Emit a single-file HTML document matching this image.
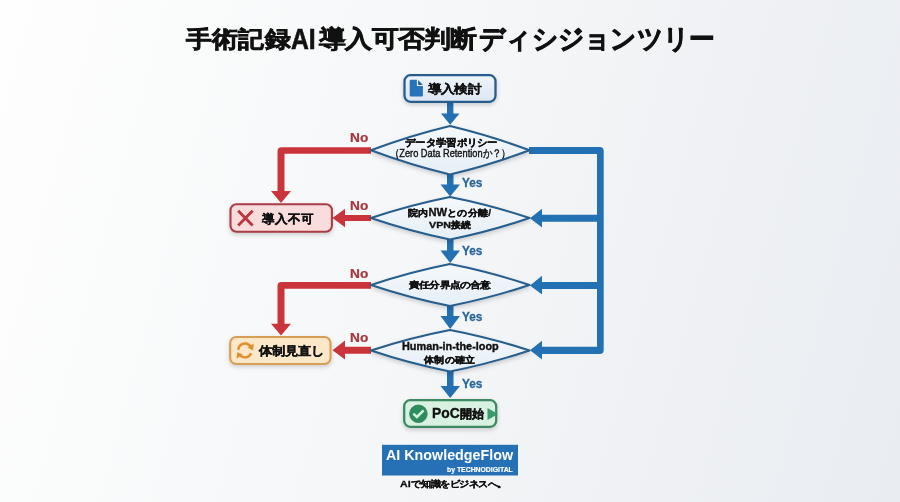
<!DOCTYPE html>
<html>
<head>
<meta charset="utf-8">
<style>
html,body{margin:0;padding:0;}
body{width:900px;height:502px;overflow:hidden;position:relative;
  background:linear-gradient(105deg,#fefefe 0%,#f5f7f8 45%,#e9ecf1 100%);
  font-family:"Liberation Sans",sans-serif;color:#111;}
.t{position:absolute;white-space:nowrap;font-weight:bold;line-height:1;}
svg{position:absolute;left:0;top:0;}
</style>
</head>
<body>
<svg width="900" height="502" viewBox="0 0 900 502">
  <defs>
    <filter id="sh" x="-20%" y="-30%" width="140%" height="170%">
      <feDropShadow dx="0" dy="2" stdDeviation="2" flood-color="#000" flood-opacity="0.18"/>
    </filter>
    <linearGradient id="dg" x1="0" y1="0" x2="0" y2="1">
      <stop offset="0" stop-color="#f4f8fb"/>
      <stop offset="1" stop-color="#e6eff7"/>
    </linearGradient>
    <linearGradient id="bg1" x1="0" y1="0" x2="0" y2="1">
      <stop offset="0" stop-color="#eef4fa"/>
      <stop offset="1" stop-color="#dbe7f2"/>
    </linearGradient>
  </defs>

  <!-- red lines -->
  <g fill="#c9353a">
    <!-- D1 no -> down to 導入不可 -->
    <path d="M371 147.3 L281.5 147.3 Q277.5 147.3 277.5 151.3 L277.5 191 L271 191 L281 203 L291 191 L284.5 191 L284.5 153.7 L371 153.7 Z"/>
    <!-- D2 no arrow -->
    <path d="M371 215 L345 215 L345 208.7 L332.5 218 L345 227.3 L345 221 L371 221 Z"/>
    <!-- D3 no -> down -->
    <path d="M371 282.1 L281.5 282.1 Q277.5 282.1 277.5 286.1 L277.5 323.7 L271 323.7 L281 335.5 L291 323.7 L284.5 323.7 L284.5 288.7 L371 288.7 Z"/>
    <!-- D4 no arrow -->
    <path d="M371 346.7 L345 346.7 L345 340.6 L332.5 350.2 L345 359.6 L345 353.8 L371 353.8 Z"/>
  </g>

  <!-- blue right bracket -->
  <g fill="#2370b2">
    <path d="M529 147 L599.7 147 Q603.7 147 603.7 151 L603.7 350 Q603.7 354 599.7 354 L542 354 L542 359.6 L530 350.3 L542 340.8 L542 346.7 L597 346.7 L597 289 L542 289 L542 294.6 L530 285.5 L542 275.8 L542 282 L597 282 L597 221.7 L542 221.7 L542 227.6 L530 218.2 L542 208.7 L542 214.7 L597 214.7 L597 154 L529 154 Z"/>
    <!-- down arrows -->
    <path d="M447 103 L453.4 103 L453.4 113.4 L459.5 113.4 L450.2 124.8 L441 113.4 L447 113.4 Z"/>
    <path d="M447 174 L453.5 174 L453.5 184.5 L460 184.5 L450.2 196.5 L440.5 184.5 L447 184.5 Z"/>
    <path d="M447 239 L453.5 239 L453.5 250.5 L460 250.5 L450.2 263 L440.5 250.5 L447 250.5 Z"/>
    <path d="M447 305 L453.5 305 L453.5 316 L460 316 L450.2 329 L440.5 316 L447 316 Z"/>
    <path d="M447 371 L453.5 371 L453.5 386 L460 386 L450.2 398 L440.5 386 L447 386 Z"/>
  </g>

  <!-- diamonds -->
  <g fill="url(#dg)" stroke="#285e8e" stroke-width="2.1" stroke-linejoin="round" filter="url(#sh)">
    <path d="M450.00 126.00 Q490.51 135.66 529.50 150.30 Q490.51 164.89 450.00 174.50 Q409.74 164.89 371.00 150.30 Q409.74 135.66 450.00 126.00 Z"/>
    <path d="M450.00 197.00 Q490.41 204.99 529.50 218.00 Q490.43 231.26 450.00 239.50 Q409.82 231.26 371.00 218.00 Q409.83 204.99 450.00 197.00 Z"/>
    <path d="M450.00 264.00 Q490.41 271.99 529.50 285.00 Q490.41 298.01 450.00 306.00 Q409.83 298.01 371.00 285.00 Q409.83 271.99 450.00 264.00 Z"/>
    <path d="M450.00 330.00 Q490.40 337.73 529.50 350.50 Q490.41 363.51 450.00 371.50 Q409.83 363.51 371.00 350.50 Q409.85 337.73 450.00 330.00 Z"/>
  </g>

  <!-- start box -->
  <rect x="404.5" y="75.2" width="91" height="26.6" rx="6" fill="url(#bg1)" stroke="#285d8c" stroke-width="2.3" filter="url(#sh)"/>
  <path d="M411 79.8 H416.9 V86 H422.9 V95.3 Q422.9 96.6 421.6 96.6 H411 Q409.7 96.6 409.7 95.3 V81.1 Q409.7 79.8 411 79.8 Z" fill="#2774b8"/>
  <path d="M418.1 80 L422.8 84.9 L418.1 84.9 Z" fill="#245f90"/>

  <!-- 導入不可 box -->
  <rect x="230.5" y="204.3" width="101.4" height="27.4" rx="6" fill="#f9dddd" stroke="#a93d44" stroke-width="2.1" filter="url(#sh)"/>
  <path d="M238.2 210.8 L252.6 225.4 M252.6 210.8 L238.2 225.4" stroke="#b9363f" stroke-width="2.9" stroke-linecap="butt"/>

  <!-- 体制見直し box -->
  <rect x="230.2" y="337" width="100.3" height="27" rx="6" fill="#fce8c9" stroke="#d99e57" stroke-width="2.1" filter="url(#sh)"/>
  <g fill="none" stroke="#e08e2c" stroke-width="2.4">
    <path d="M238.3 349.8 A6.7 6.7 0 0 1 250.6 346.6"/>
    <path d="M251.1 353.3 A6.7 6.7 0 0 1 239.8 355"/>
  </g>
  <path d="M253.9 343.4 L247.6 347.6 L252.9 350.4 Z" fill="#e08e2c"/>
  <path d="M236.5 358.8 L242.8 354.6 L237.4 352.2 Z" fill="#e08e2c"/>

  <!-- PoC box -->
  <rect x="404.2" y="400.2" width="92" height="26.6" rx="6" fill="#d8f1e0" stroke="#3e8a62" stroke-width="2.3" filter="url(#sh)"/>
  <circle cx="418.4" cy="413.8" r="8.8" fill="#2f8c5c" stroke="#2b7a52" stroke-width="0.8"/>
  <path d="M413.3 413.6 L416.9 417 L423.6 410.3" fill="none" stroke="#d2f5df" stroke-width="2.5"/>
  <path d="M487.5 408 L498 414 L487.5 420 Z" fill="#3a9a6a"/>

  <!-- logo -->
  <rect x="382" y="444.8" width="136" height="30.7" fill="#2671b5"/>
</svg>
<div class="t" style="left:186.20px;top:28.09px;font-size:27px;color:#111;font-weight:bold;transform:scale(0.9720,0.8673);transform-origin:0 0;-webkit-text-stroke:0.8px #111;">手術記録</div>
<div class="t" style="left:291.40px;top:25.38px;font-size:27px;color:#111;font-weight:bold;transform:scale(0.9157,1.0682);transform-origin:0 0;-webkit-text-stroke:0.6px #111;">AI</div>
<div class="t" style="left:319.09px;top:28.34px;font-size:27px;color:#111;font-weight:bold;transform:scale(0.9738,0.8712);transform-origin:0 0;-webkit-text-stroke:0.8px #111;">導入可否判断</div>
<div class="t" style="left:479.03px;top:25.52px;font-size:27px;color:#111;font-weight:bold;transform:scale(0.9377,0.9834);transform-origin:0 0;-webkit-text-stroke:0.8px #111;">ディシジョンツリー</div>
<div class="t" style="left:428.37px;top:82.57px;font-size:14px;color:#111;font-weight:bold;transform:scale(0.9413,0.8218);transform-origin:0 0;-webkit-text-stroke:0.4px #111;">導入検討</div>
<div class="t" style="left:404.64px;top:138.39px;font-size:11px;color:#111;font-weight:bold;transform:scale(0.9369,0.9038);transform-origin:0 0;-webkit-text-stroke:0.4px #111;">データ学習ポリシー</div>
<div class="t" style="left:390.44px;top:149.48px;font-size:10px;color:#111;font-weight:normal;transform:scale(0.9250,1.0621);transform-origin:0 0;-webkit-text-stroke:0.35px #111;">（Zero Data Retentionか？）</div>
<div class="t" style="left:408.00px;top:207.78px;font-size:11px;color:#111;font-weight:bold;transform:scale(0.9326,0.8413);transform-origin:0 0;-webkit-text-stroke:0.4px #111;">院内<span style='font-size:12px'>NW</span>との分離/</div>
<div class="t" style="left:429.00px;top:220.00px;font-size:11px;color:#111;font-weight:bold;transform:scale(0.8936,0.8264);transform-origin:0 0;-webkit-text-stroke:0.4px #111;"><span style='font-size:12px'>VPN</span>接続</div>
<div class="t" style="left:409.00px;top:280.90px;font-size:11px;color:#111;font-weight:bold;transform:scale(0.9253,0.7720);transform-origin:0 0;-webkit-text-stroke:0.4px #111;">責任分界点の合意</div>
<div class="t" style="left:402.00px;top:340.90px;font-size:11px;color:#111;font-weight:bold;transform:scale(0.9897,1.0000);transform-origin:0 0;-webkit-text-stroke:0.4px #111;">Human-in-the-loop</div>
<div class="t" style="left:424.00px;top:354.64px;font-size:11px;color:#111;font-weight:bold;transform:scale(0.9329,0.8413);transform-origin:0 0;-webkit-text-stroke:0.4px #111;">体制の確立</div>
<div class="t" style="left:262.37px;top:212.19px;font-size:14px;color:#111;font-weight:bold;transform:scale(0.9269,0.8919);transform-origin:0 0;-webkit-text-stroke:0.4px #111;">導入不可</div>
<div class="t" style="left:259.00px;top:344.61px;font-size:14px;color:#111;font-weight:bold;transform:scale(0.9309,0.8429);transform-origin:0 0;-webkit-text-stroke:0.4px #111;">体制見直し</div>
<div class="t" style="left:431.95px;top:406.80px;font-size:14px;color:#111;font-weight:bold;transform:scale(0.8630,0.8571);transform-origin:0 0;-webkit-text-stroke:0.4px #111;"><span style='font-size:16px'>PoC</span>開始</div>
<div class="t" style="left:349.60px;top:131.65px;font-size:13px;color:#a9333b;font-weight:bold;transform:scale(1.0524,0.9421);transform-origin:0 0;-webkit-text-stroke:0.2px #a9333b;">No</div>
<div class="t" style="left:349.60px;top:199.95px;font-size:13px;color:#a9333b;font-weight:bold;transform:scale(1.0524,0.9421);transform-origin:0 0;-webkit-text-stroke:0.2px #a9333b;">No</div>
<div class="t" style="left:349.95px;top:268.15px;font-size:13px;color:#a9333b;font-weight:bold;transform:scale(1.0524,0.9421);transform-origin:0 0;-webkit-text-stroke:0.2px #a9333b;">No</div>
<div class="t" style="left:349.95px;top:332.38px;font-size:13px;color:#a9333b;font-weight:bold;transform:scale(1.0524,0.9421);transform-origin:0 0;-webkit-text-stroke:0.2px #a9333b;">No</div>
<div class="t" style="left:462.05px;top:175.70px;font-size:13px;color:#28659c;font-weight:bold;transform:scale(0.9070,1.0000);transform-origin:0 0;-webkit-text-stroke:0.3px #28659c;">Yes</div>
<div class="t" style="left:462.05px;top:243.70px;font-size:13px;color:#28659c;font-weight:bold;transform:scale(0.9070,1.0000);transform-origin:0 0;-webkit-text-stroke:0.3px #28659c;">Yes</div>
<div class="t" style="left:462.05px;top:309.70px;font-size:13px;color:#28659c;font-weight:bold;transform:scale(0.9070,1.0000);transform-origin:0 0;-webkit-text-stroke:0.3px #28659c;">Yes</div>
<div class="t" style="left:462.05px;top:376.70px;font-size:13px;color:#28659c;font-weight:bold;transform:scale(0.9070,1.0000);transform-origin:0 0;-webkit-text-stroke:0.3px #28659c;">Yes</div>
<div class="t" style="left:386.06px;top:447.13px;font-size:15px;color:#fff;font-weight:bold;transform:scale(0.9534,1.0037);transform-origin:0 0;">AI KnowledgeFlow</div>
<div class="t" style="left:447.15px;top:466.16px;font-size:8px;color:#fff;font-weight:bold;transform:scale(0.8573,1.0083);transform-origin:0 0;-webkit-text-stroke:0.2px #fff;">by TECHNODIGITAL</div>
<div class="t" style="left:399.51px;top:478.53px;font-size:10px;color:#111;font-weight:bold;transform:scale(0.9697,0.8546);transform-origin:0 0;-webkit-text-stroke:0.35px #111;letter-spacing:-0.2px;"><span style='font-size:11px;letter-spacing:0'>AI</span>で<span style='font-size:5px'> </span>知識をビジネスへ。</div>
</body>
</html>
